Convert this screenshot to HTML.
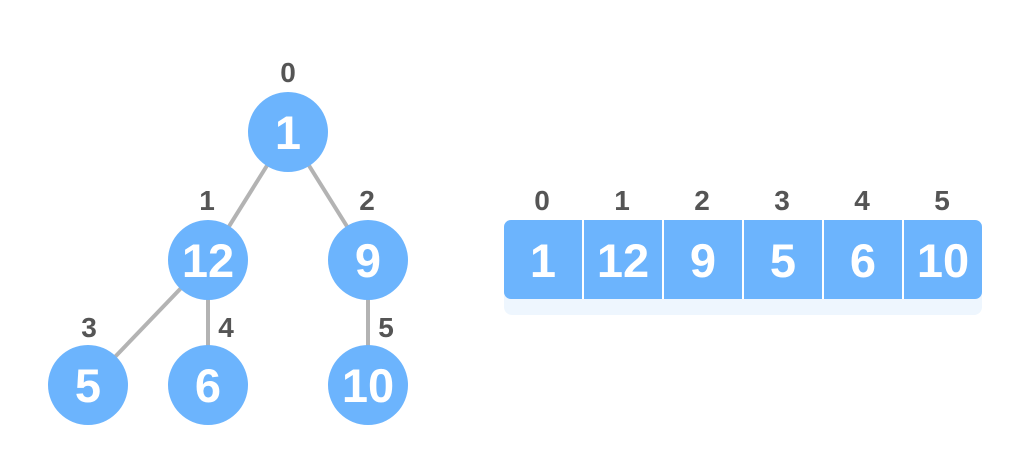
<!DOCTYPE html>
<html><head><meta charset="utf-8"><style>
html,body{margin:0;padding:0;background:#fff;}
svg{display:block;font-family:"Liberation Sans","DejaVu Sans",sans-serif;font-weight:bold;}
</style></head><body>
<svg id="chart" width="1030" height="476" viewBox="0 0 1030 476" xmlns="http://www.w3.org/2000/svg">
<g id="edges"></g>
<g id="nodes"></g>
<g id="arr"></g>
</svg>
<script>
const heapValues = [1, 12, 9, 5, 6, 10];
const indexLabels = ["0", "1", "2", "3", "4", "5"];
const parentOf = [-1, 0, 0, 1, 1, 2];

const NS = "http://www.w3.org/2000/svg";
const BLUE = "#6cb4fd", GRAY = "#555555";
const nodePos = [[288,132],[208,260],[368,260],[88,385],[208,385],[368,385]];
const labelPos = [[288,82],[207,210],[367,210],[89,337],[226,337],[386,337]];
function mk(tag, attrs, parent){const e=document.createElementNS(NS,tag);for(const k in attrs)e.setAttribute(k,attrs[k]);parent.appendChild(e);return e;}
const edges=document.getElementById('edges'), nodes=document.getElementById('nodes'), arr=document.getElementById('arr');

heapValues.forEach((v,i)=>{
  const p=parentOf[i];
  if(p>=0){
    const l=mk('line',{x1:nodePos[p][0],y1:nodePos[p][1],x2:nodePos[i][0],y2:nodePos[i][1],stroke:'#b3b3b3','stroke-width':4},edges);
    
    
  }
  const c=mk('circle',{cx:nodePos[i][0],cy:nodePos[i][1],r:40,fill:BLUE},nodes);
  
  
  const t=mk('text',{x:nodePos[i][0],y:nodePos[i][1]+17,'text-anchor':'middle','font-size':47,fill:'#fff'},nodes);
  t.textContent=v;
  
  
  const lb=mk('text',{x:labelPos[i][0],y:labelPos[i][1],'text-anchor':'middle','font-size':28,fill:GRAY},nodes);
  lb.textContent=indexLabels[i];
  
  
});

// array
const ax=504, ay=220, cw=80, ch=79, n=heapValues.length;
const sh=mk('rect',{x:ax,y:ay+10,width:cw*n-2,height:ch+6,rx:8,fill:'#eef6fe'},arr);


const bg=mk('rect',{x:ax,y:ay,width:cw*n-2,height:ch,rx:7,fill:BLUE},arr);


heapValues.forEach((v,i)=>{
  const x=ax+i*cw;
  if(i>0){
    const d=mk('rect',{x:x-2,y:ay,width:2,height:ch,fill:'#fff'},arr);
    
    
  }
  const t=mk('text',{x:x+39,y:ay+57,'text-anchor':'middle','font-size':47,fill:'#fff'},arr);
  t.textContent=v;
  
  
  const lb=mk('text',{x:x+38,y:ay-10,'text-anchor':'middle','font-size':28,fill:GRAY},arr);
  lb.textContent=indexLabels[i];
  
  
});
</script>
</body></html>
